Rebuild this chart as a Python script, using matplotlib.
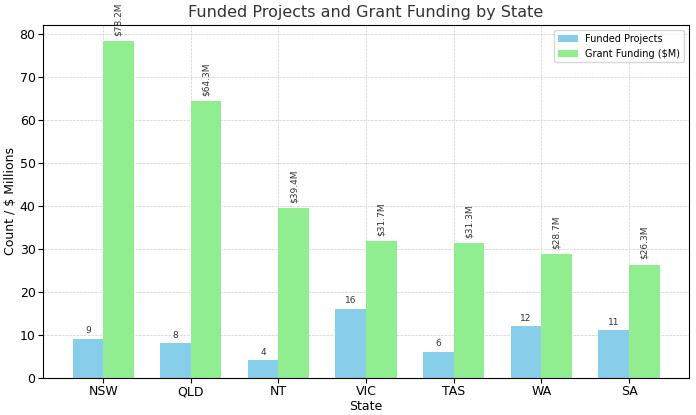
import matplotlib
matplotlib.use("Agg")
import matplotlib.pyplot as plt
import numpy as np

states = ["NSW", "QLD", "NT", "VIC", "TAS", "WA", "SA"]
projects = [9, 8, 4, 16, 6, 12, 11]
funding = [78.2, 64.3, 39.4, 31.7, 31.3, 28.7, 26.3]

fig, ax = plt.subplots(figsize=(6.96, 4.15), dpi=100)
x = np.arange(len(states))
w = 0.35
b1 = ax.bar(x - w/2, projects, w, color="skyblue", label="Funded Projects")
b2 = ax.bar(x + w/2, funding, w, color="lightgreen", label="Grant Funding ($M)")
for r, v in zip(b1, projects):
    ax.text(r.get_x() + r.get_width()/2, v + 0.8, str(v), ha="center", va="bottom", fontsize=6.5, color="#333333")
for r, v in zip(b2, funding):
    ax.text(r.get_x() + r.get_width()/2, v + 1.2, f"${v}M", ha="center", va="bottom", rotation=90, fontsize=6.5, color="#333333")
ax.set_xticks(x)
ax.set_xticklabels(states)
ax.tick_params(labelsize=9, pad=2)
ax.set_ylim(0, 82)
ax.set_xlabel("State", fontsize=9, labelpad=1)
ax.set_ylabel("Count / $ Millions", fontsize=9, labelpad=2)
ax.set_title("Funded Projects and Grant Funding by State", fontsize=11.5, color="#333333")
ax.grid(True, linestyle="--", linewidth=0.5, color="#cccccc")
ax.set_axisbelow(True)
ax.legend(fontsize=7, loc="upper right")
fig.subplots_adjust(left=0.062, right=0.99, top=0.94, bottom=0.09)
fig.savefig("out.png", dpi=100)
